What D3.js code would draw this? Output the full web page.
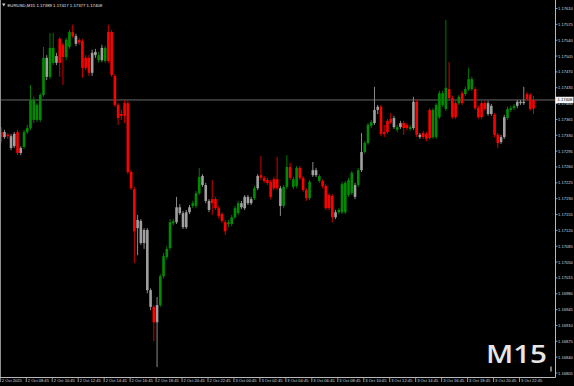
<!DOCTYPE html>
<html><head><meta charset="utf-8">
<script src="https://cdn.jsdelivr.net/npm/d3@7/dist/d3.min.js"></script>
<style>html,body{margin:0;padding:0;background:#000;overflow:hidden}</style>
</head><body>
<svg id="c" width="574" height="386"></svg>
<script>
const symbolTitle = "EURUSD,M15";
const lastBar = [1.17389, 1.17417, 1.17377, 1.17408];
const currentPrice = 1.17408;
const periodLabel = "M15";

const openP = [
1.17337,1.17326,1.17331,1.17328,1.17306,1.17337,1.17291,1.17304,1.17337,1.17346,
1.17364,1.17364,1.17364,1.17419,1.17501,1.17459,1.17490,1.17505,1.17543,1.17530,
1.17503,1.17525,1.17558,1.17549,1.17540,1.17538,1.17501,1.17501,1.17468,1.17514,
1.17496,1.17496,1.17494,1.17558,1.17558,1.17461,1.17397,1.17377,1.17401,1.17401,
1.17249,1.17211,1.17125,1.17141,1.17092,1.17121,1.16988,1.16951,1.16917,1.16955,
1.17019,1.17061,1.17081,1.17136,1.17138,1.17171,1.17158,1.17127,1.17160,1.17174,
1.17174,1.17202,1.17240,1.17220,1.17185,1.17189,1.17189,1.17169,1.17156,1.17138,
1.17134,1.17134,1.17149,1.17158,1.17180,1.17169,1.17194,1.17180,1.17191,1.17213,
1.17242,1.17236,1.17231,1.17227,1.17233,1.17233,1.17213,1.17174,1.17216,1.17260,
1.17216,1.17218,1.17258,1.17236,1.17209,1.17191,1.17242,1.17253,1.17229,1.17229,
1.17218,1.17198,1.17196,1.17149,1.17160,1.17160,1.17160,1.17198,1.17202,1.17220,
1.17220,1.17253,1.17293,1.17313,1.17351,1.17357,1.17386,1.17393,1.17337,1.17362,
1.17366,1.17368,1.17342,1.17348,1.17357,1.17353,1.17344,1.17346,1.17404,1.17331,
1.17335,1.17333,1.17386,1.17326,1.17326,1.17370,1.17397,1.17388,1.17432,1.17412,
1.17401,1.17401,1.17423,1.17421,1.17432,1.17432,1.17432,1.17390,1.17401,1.17401,
1.17377,1.17395,1.17375,1.17331,1.17315,1.17326,1.17368,1.17386,1.17390,1.17395,
1.17404,1.17401,1.17421,1.17419,1.17389];

const highP = [
1.17348,1.17342,1.17335,1.17333,1.17337,1.17342,1.17306,1.17342,1.17353,1.17441,
1.17415,1.17401,1.17423,1.17525,1.17507,1.17556,1.17556,1.17512,1.17547,1.17534,
1.17545,1.17563,1.17574,1.17554,1.17545,1.17543,1.17507,1.17507,1.17519,1.17521,
1.17514,1.17530,1.17527,1.17574,1.17563,1.17465,1.17401,1.17386,1.17408,1.17406,
1.17253,1.17216,1.17154,1.17145,1.17125,1.17125,1.16992,1.16955,1.16973,1.17023,
1.17070,1.17085,1.17145,1.17145,1.17194,1.17178,1.17163,1.17165,1.17176,1.17185,
1.17207,1.17258,1.17244,1.17225,1.17189,1.17231,1.17194,1.17174,1.17160,1.17143,
1.17143,1.17154,1.17174,1.17185,1.17185,1.17198,1.17198,1.17194,1.17218,1.17244,
1.17284,1.17240,1.17236,1.17231,1.17238,1.17282,1.17218,1.17220,1.17286,1.17269,
1.17238,1.17262,1.17262,1.17240,1.17213,1.17231,1.17271,1.17258,1.17244,1.17233,
1.17222,1.17202,1.17200,1.17165,1.17169,1.17227,1.17229,1.17236,1.17251,1.17225,
1.17258,1.17335,1.17317,1.17357,1.17364,1.17437,1.17397,1.17397,1.17353,1.17366,
1.17379,1.17373,1.17353,1.17362,1.17362,1.17357,1.17353,1.17415,1.17408,1.17335,
1.17340,1.17337,1.17390,1.17390,1.17401,1.17428,1.17428,1.17585,1.17492,1.17417,
1.17406,1.17419,1.17428,1.17437,1.17479,1.17459,1.17437,1.17395,1.17406,1.17406,
1.17406,1.17399,1.17379,1.17335,1.17331,1.17375,1.17393,1.17395,1.17399,1.17408,
1.17408,1.17437,1.17426,1.17423,1.17417];

const lowP = [
1.17315,1.17322,1.17322,1.17297,1.17302,1.17286,1.17286,1.17300,1.17333,1.17342,
1.17357,1.17359,1.17359,1.17415,1.17452,1.17454,1.17485,1.17485,1.17459,1.17441,
1.17496,1.17521,1.17545,1.17527,1.17530,1.17457,1.17474,1.17461,1.17461,1.17501,
1.17490,1.17492,1.17490,1.17490,1.17459,1.17393,1.17353,1.17364,1.17357,1.17244,
1.17209,1.17048,1.17065,1.17088,1.17079,1.16981,1.16944,1.16875,1.16818,1.16951,
1.17014,1.17056,1.17076,1.17131,1.17134,1.17154,1.17123,1.17123,1.17156,1.17169,
1.17169,1.17198,1.17216,1.17180,1.17160,1.17154,1.17165,1.17147,1.17136,1.17110,
1.17127,1.17129,1.17145,1.17154,1.17167,1.17165,1.17176,1.17176,1.17187,1.17209,
1.17231,1.17225,1.17220,1.17189,1.17209,1.17209,1.17152,1.17169,1.17211,1.17231,
1.17211,1.17213,1.17231,1.17205,1.17185,1.17187,1.17238,1.17238,1.17225,1.17213,
1.17165,1.17165,1.17138,1.17145,1.17156,1.17156,1.17156,1.17194,1.17198,1.17189,
1.17216,1.17249,1.17289,1.17309,1.17346,1.17353,1.17377,1.17328,1.17326,1.17333,
1.17355,1.17344,1.17337,1.17344,1.17331,1.17342,1.17340,1.17342,1.17326,1.17322,
1.17322,1.17317,1.17320,1.17322,1.17322,1.17366,1.17393,1.17384,1.17408,1.17366,
1.17366,1.17397,1.17397,1.17417,1.17428,1.17428,1.17386,1.17366,1.17366,1.17384,
1.17373,1.17373,1.17326,1.17302,1.17311,1.17322,1.17364,1.17381,1.17386,1.17390,
1.17397,1.17397,1.17406,1.17384,1.17377];

const closeP = [
1.17326,1.17337,1.17328,1.17302,1.17333,1.17291,1.17302,1.17337,1.17346,1.17408,
1.17408,1.17397,1.17419,1.17501,1.17459,1.17523,1.17523,1.17490,1.17490,1.17503,
1.17541,1.17558,1.17549,1.17532,1.17535,1.17479,1.17479,1.17468,1.17512,1.17507,
1.17507,1.17523,1.17523,1.17494,1.17463,1.17397,1.17368,1.17373,1.17373,1.17249,
1.17213,1.17118,1.17143,1.17092,1.17121,1.16988,1.16951,1.16917,1.16955,1.17019,
1.17063,1.17079,1.17138,1.17140,1.17171,1.17158,1.17127,1.17160,1.17171,1.17180,
1.17202,1.17238,1.17220,1.17185,1.17165,1.17180,1.17169,1.17152,1.17141,1.17118,
1.17138,1.17149,1.17169,1.17180,1.17171,1.17194,1.17180,1.17189,1.17213,1.17240,
1.17236,1.17229,1.17225,1.17194,1.17213,1.17213,1.17174,1.17216,1.17260,1.17236,
1.17233,1.17258,1.17236,1.17209,1.17191,1.17227,1.17253,1.17242,1.17240,1.17218,
1.17169,1.17169,1.17149,1.17160,1.17165,1.17222,1.17225,1.17231,1.17247,1.17194,
1.17253,1.17293,1.17313,1.17353,1.17359,1.17386,1.17393,1.17333,1.17333,1.17337,
1.17359,1.17348,1.17348,1.17357,1.17346,1.17346,1.17348,1.17404,1.17331,1.17326,
1.17326,1.17322,1.17324,1.17386,1.17397,1.17423,1.17423,1.17435,1.17412,1.17370,
1.17370,1.17415,1.17401,1.17432,1.17454,1.17454,1.17390,1.17370,1.17370,1.17388,
1.17401,1.17377,1.17331,1.17313,1.17326,1.17370,1.17388,1.17390,1.17395,1.17404,
1.17401,1.17404,1.17410,1.17388,1.17408];

// bar colour class: R = red, G = green, S = silver
const barTone = ("RSRSSRSGGG"+"GGGGSGGSRR"+"GGRSRRRRSS"+"GSGRRRRRRR"+"RRSSSSSRSG"+
  "GGGGSSSSSG"+"GGSSSRRRRR"+"GGGGSSSSGS"+"RRRRRRSGGR"+"GGRRRGSSGR"+
  "RRRSGGGGGS"+"GSGGGSSRRR"+"RSGSRRGSRS"+"RRRGGGGGRR"+"RGRGGGRRRR"+
  "SSRRSSGGGS"+"SSRRR").split("");

const priceTicks = [1.17610,1.17575,1.17540,1.17505,1.17470,1.17435,1.17400,1.17365,
  1.17330,1.17295,1.17260,1.17225,1.17190,1.17155,1.17120,1.17085,1.17050,1.17015,
  1.16980,1.16945,1.16910,1.16875,1.16840,1.16805];

const timeLabels = ["2 Oct 2025","2 Oct 08:45","2 Oct 10:45","2 Oct 12:45","2 Oct 14:45",
  "2 Oct 16:45","2 Oct 18:45","2 Oct 20:45","2 Oct 22:45","3 Oct 00:45","3 Oct 02:45",
  "3 Oct 04:45","3 Oct 06:45","3 Oct 08:45","3 Oct 10:45","3 Oct 12:45","3 Oct 14:45",
  "3 Oct 16:45","3 Oct 18:45","3 Oct 20:45","3 Oct 22:45"];
const timeLabelBars = [0,8,16,24,32,40,48,56,64,72,80,88,96,104,112,120,128,136,144,152,160];

const bodyCol = {R:"#ff0000", G:"#008c00", S:"#a0a0a0"};
const wickCol = {R:"#d00000", G:"#007800", S:"#8a8a8a"};

const svg = d3.select("#c");
const plotR = 555, plotB = 377;
const n = openP.length;
const x = d3.scaleLinear().domain([0, n-1]).range([1.3, 533.5]);
const y = d3.scaleLinear().domain([1.16805, 1.17610]).range([373, 8.5]);

const bars = d3.range(n).map(i => ({i, o:openP[i], h:highP[i], l:lowP[i], c:closeP[i], t:barTone[i]}));

// price line
svg.append("line").attr("x1",0).attr("x2",plotR).attr("y1",y(currentPrice)).attr("y2",y(currentPrice))
  .attr("stroke","#6a6a6a").attr("stroke-width",1);

const g = svg.append("g");
g.selectAll("line.w").data(bars).join("line").attr("class","w")
  .attr("x1",d=>x(d.i)).attr("x2",d=>x(d.i))
  .attr("y1",d=>y(d.h)).attr("y2",d=>y(d.l))
  .attr("stroke",d=>wickCol[d.t]).attr("stroke-width",1);
g.selectAll("rect.b").data(bars).join("rect").attr("class","b")
  .attr("x",d=>x(d.i)-1.3).attr("width",2.6)
  .attr("y",d=>y(Math.max(d.o,d.c)))
  .attr("height",d=>Math.max(1, y(Math.min(d.o,d.c))-y(Math.max(d.o,d.c))))
  .attr("fill",d=>bodyCol[d.t]);

// frame
svg.append("line").attr("x1",0.5).attr("x2",0.5).attr("y1",0).attr("y2",plotB).attr("stroke","#909090");
svg.append("line").attr("x1",plotR+0.5).attr("x2",plotR+0.5).attr("y1",0).attr("y2",plotB+0.5).attr("stroke","#b8b8b8");
svg.append("line").attr("x1",0).attr("x2",plotR+0.5).attr("y1",plotB+0.5).attr("y2",plotB+0.5).attr("stroke","#b8b8b8");

const font = "'Liberation Sans', Arial, sans-serif";
// price axis
const pa = svg.append("g");
priceTicks.forEach(p => {
  pa.append("line").attr("x1",plotR).attr("x2",plotR+2.5).attr("y1",y(p)).attr("y2",y(p)).attr("stroke","#bbb").attr("stroke-width",0.8);
  pa.append("text").attr("x",plotR+3).attr("y",y(p)+1.5).text(p.toFixed(5))
    .attr("font-family",font).attr("font-size",4.1).attr("fill","#d8d8d8");
});
// current price box
pa.append("rect").attr("x",plotR+0.5).attr("y",y(currentPrice)-3.2).attr("width",18).attr("height",6.4).attr("fill","#f4f4f4");
pa.append("text").attr("x",plotR+2.5).attr("y",y(currentPrice)+1.5).text(currentPrice.toFixed(5))
  .attr("font-family",font).attr("font-size",4.1).attr("fill","#000");

// time axis
const ta = svg.append("g");
timeLabels.forEach((lab,k) => {
  const tx = x(timeLabelBars[k]) - 1;
  ta.append("line").attr("x1",tx).attr("x2",tx).attr("y1",plotB).attr("y2",plotB+5).attr("stroke","#bbb").attr("stroke-width",0.8);
  ta.append("text").attr("x",tx+1.5).attr("y",plotB+5.2).text(lab)
    .attr("font-family",font).attr("font-size",4.1).attr("fill","#d8d8d8");
});

// header
svg.append("path").attr("d","M2,3.5 L5.5,3.5 L3.75,6.5 Z").attr("fill","#cfcfcf");
svg.append("text").attr("x",7.5).attr("y",7.3)
  .text(symbolTitle + "  " + lastBar.map(v=>v.toFixed(5)).join(" "))
  .attr("font-family",font).attr("font-size",4.3).attr("fill","#e8e8e8");

// period label
svg.append("text").attr("x",486).attr("y",363).text(periodLabel)
  .attr("font-family","'Open Sans', 'DejaVu Sans', sans-serif").attr("font-size",25).attr("font-weight",600)
  .attr("textLength",61).attr("lengthAdjust","spacingAndGlyphs").attr("fill","#e6e6e6");

// small corner marker
svg.append("path").attr("d","M550,366.5 L552,366.5 L552,371.5 L550,371.5 Z").attr("fill","#777");
</script>
</body></html>
